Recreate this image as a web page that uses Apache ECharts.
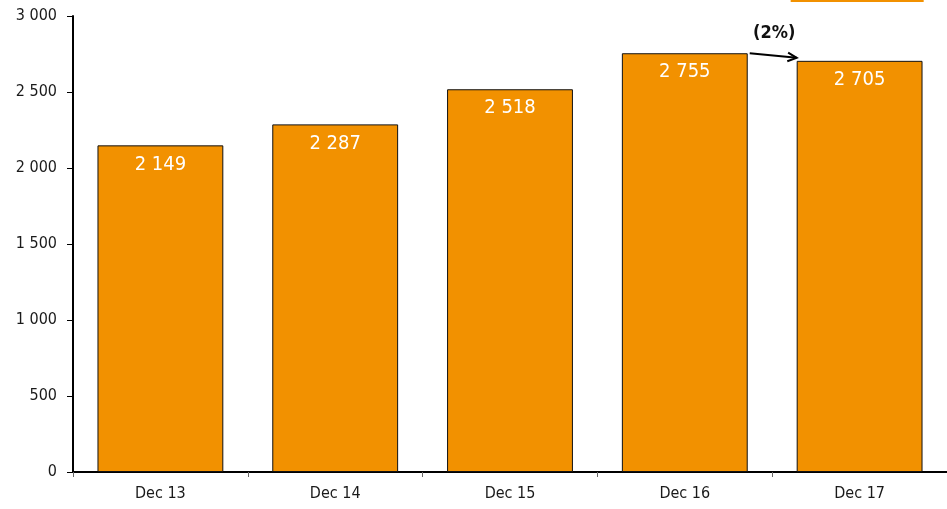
<!DOCTYPE html>
<html>
<head>
<meta charset="utf-8">
<script src="https://cdn.jsdelivr.net/npm/echarts@6/dist/echarts.min.js"></script>
<style>
  html, body { margin: 0; padding: 0; background: #fff; }
  #chart { width: 947px; height: 509px; }
</style>
</head>
<body>
<div id="chart"></div>
<script>
const categories = ['Dec 13', 'Dec 14', 'Dec 15', 'Dec 16', 'Dec 17'];
const values = [2149, 2287, 2518, 2755, 2705];
const changeLabel = '(2%)';
const changeFrom = 3;
const changeTo = 4;

const FONT = '"Liberation Sans Narrow", "Arial Narrow", "DejaVu Sans Condensed", "Liberation Sans", sans-serif';
const fmt = (v) => String(v).replace(/\B(?=(\d{3})+(?!\d))/g, ' ');

const chart = echarts.init(document.getElementById('chart'));
const barGap = 0.28;

chart.setOption({
  animation: false,
  grid: { left: 73, right: -4.5, top: 16, bottom: 37 },
  xAxis: {
    type: 'category',
    data: categories,
    axisLine: { lineStyle: { color: '#000', width: 2 } },
    axisTick: { show: true, length: 5, lineStyle: { color: '#666' } },
    axisLabel: { color: '#1a1a1a', fontSize: 16, fontFamily: FONT, margin: 14 },
  },
  yAxis: {
    type: 'value',
    min: 0,
    max: 3000,
    interval: 500,
    splitLine: { show: false },
    axisLine: { show: true, lineStyle: { color: '#000', width: 2 } },
    axisTick: { show: true, length: 6, lineStyle: { color: '#000' } },
    axisLabel: { color: '#1a1a1a', fontSize: 16, fontFamily: FONT, margin: 16, formatter: fmt },
  },
  series: [{
    type: 'bar',
    data: values,
    barCategoryGap: (barGap * 100) + '%',
    itemStyle: { color: '#F29100', borderColor: '#111', borderWidth: 1 },
    label: {
      show: true,
      position: 'insideTop',
      distance: 9,
      color: '#fff',
      fontSize: 20,
      fontFamily: FONT,
      formatter: (p) => fmt(p.value),
    },
  }],
});

// change arrow between two bars, positioned through the axes
function drawArrow() {
  const band = chart.convertToPixel({ xAxisIndex: 0 }, categories[1]) - chart.convertToPixel({ xAxisIndex: 0 }, categories[0]);
  const half = band * (1 - barGap) / 2;
  const x1 = chart.convertToPixel({ xAxisIndex: 0 }, categories[changeFrom]) + half + 2;
  const x2 = chart.convertToPixel({ xAxisIndex: 0 }, categories[changeTo]) - half;
  const y1 = chart.convertToPixel({ yAxisIndex: 0 }, values[changeFrom]);
  const y2 = chart.convertToPixel({ yAxisIndex: 0 }, values[changeTo]) - 3;
  const ang = Math.atan2(y2 - y1, x2 - x1);
  const hl = 10;
  chart.setOption({
    graphic: [
      { type: 'line', shape: { x1, y1, x2, y2 }, style: { stroke: '#000', lineWidth: 2 } },
      { type: 'polyline', shape: { points: [
          [x2 - hl * Math.cos(ang - 0.45), y2 - hl * Math.sin(ang - 0.45)],
          [x2, y2],
          [x2 - hl * Math.cos(ang + 0.45), y2 - hl * Math.sin(ang + 0.45)],
        ] }, style: { stroke: '#000', lineWidth: 2, fill: null } },
      { type: 'text', x: (x1 + x2) / 2 + 1, y: y1 - 20, style: {
          text: changeLabel, fill: '#111', font: 'bold 18px ' + FONT, align: 'center', verticalAlign: 'middle' } },
      { type: 'rect', shape: { x: x2 - 6, y: -2, width: 133, height: 4 }, style: { fill: '#F29100' } },
    ],
  });
}
drawArrow();
</script>
</body>
</html>
